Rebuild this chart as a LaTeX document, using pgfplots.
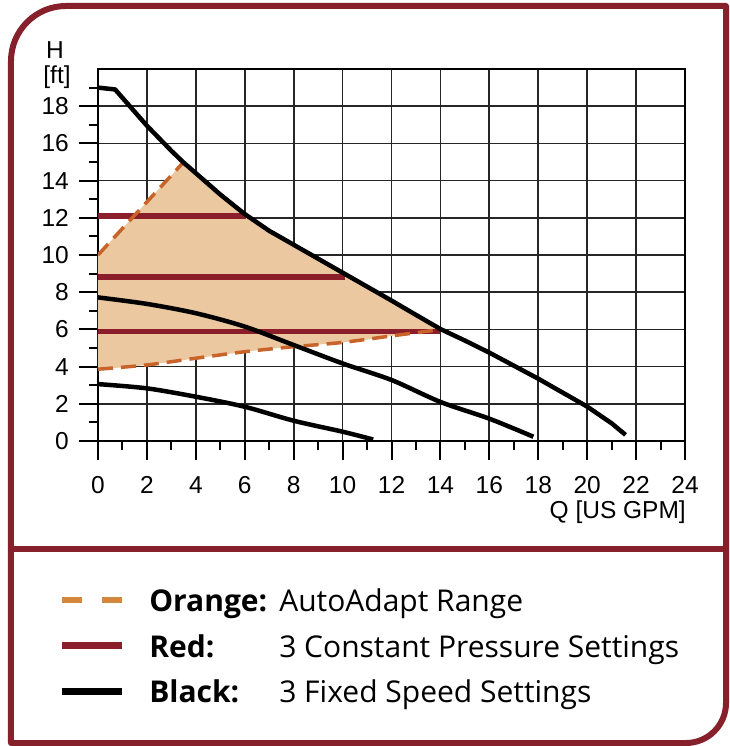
\documentclass[border=0pt]{standalone}
\usepackage{pgfplots}
\pgfplotsset{compat=1.18}
\usepackage{fontspec}
\setmainfont{Liberation Sans}
\newfontfamily\legfont{Open Sans}

\definecolor{frame}{HTML}{86212C}
\definecolor{setred}{HTML}{8A1F2B}
\definecolor{adapt}{HTML}{C8642A}
\definecolor{adaptleg}{HTML}{D4873A}
\definecolor{range}{HTML}{EBC8A0}

\begin{document}
\begin{tikzpicture}[x=1pt,y=1pt]
\begin{axis}[
    name=ax,
    scale only axis, width=587pt, height=372pt,
    xmin=0, xmax=24, ymin=0, ymax=20,
    xtick={0,2,...,24}, ytick={0,2,...,18},
    minor xtick={1,3,...,23}, minor ytick={1,3,...,19},
    xtick pos=bottom, ytick pos=left,
    tick align=outside,
    major tick length=19pt, minor tick length=9pt,
    tick style={line width=2pt, black},
    grid=major,
    major grid style={line width=1.7pt, black!85},
    axis line style={line width=2.4pt},
    ticklabel style={font=\fontsize{24.5}{24.5}\selectfont, inner sep=0pt},
    xticklabel shift=16pt, yticklabel shift=10pt,
    /pgf/number format/assume math mode=true,
    legend style={at={(-0.068,-0.4005)}, anchor=north west, draw=none,
      fill=none, inner sep=0pt, row sep=17pt, column sep=24pt,
      font=\legfont\fontsize{30}{30}\selectfont,
      nodes={inner sep=0pt, text height=21.5pt, text depth=7pt},
      cells={anchor=west}},
    legend image code/.code={\draw[#1] (0pt,4pt) -- (60pt,4pt);},
]

% AutoAdapt range
\addplot[fill=range, draw=none, forget plot] coordinates {
  (0,3.86) (0,10.0) (3.49,14.98) (4,14.4) (5,13.25) (6,12.2) (7,11.3)
  (8,10.55) (9,9.8) (10,9.05) (11,8.3) (12,7.55) (13,6.78) (14.05,6.0)
  (13,5.8) (12,5.65) (11,5.45) (10,5.3) (9,5.18) (8,5.07) (7,4.95) (6,4.8)
  (5,4.62) (4,4.45) (3,4.25) (2,4.09) (1,3.96) (0,3.86)
};

% constant pressure settings
\addplot[setred, line width=5.5pt, forget plot] coordinates {(0,12.1) (6.07,12.1)};
\addplot[setred, line width=5.5pt, forget plot] coordinates {(0,8.83) (10.1,8.83)};
\addplot[setred, line width=5.5pt, forget plot] coordinates {(0,5.9) (14.0,5.9)};

% AutoAdapt limits
\addplot[adapt, line width=3.5pt, dash pattern=on 15pt off 8pt, forget plot]
  coordinates {(0,10.0) (3.49,14.98)};
\addplot[adapt, line width=3.5pt, dash pattern=on 15pt off 8pt, smooth, forget plot]
  coordinates {(0,3.86) (2,4.09) (4,4.45) (6,4.8) (8,5.07) (10,5.3) (12,5.65) (14.05,6.0)};

% fixed speed settings
\addplot[black, line width=4.5pt, line join=round, forget plot] coordinates {
  (0,19.0) (0.7,18.9) (1.3,18.0) (2,16.95) (3,15.6) (3.49,14.98) (4,14.4)
  (5,13.25) (6,12.2) (7,11.3) (8,10.55) (9,9.8) (10,9.05) (11,8.3)
  (12,7.55) (13,6.78) (14,6.02) (15,5.4) (16,4.75) (17,4.05) (18,3.35)
  (19,2.6) (20,1.85) (21,0.95) (21.57,0.33)};
\addplot[black, line width=4.5pt, smooth, tension=0.5, forget plot] coordinates {
  (0,7.72) (2,7.37) (4,6.87) (6,6.15) (8,5.16) (10,4.17) (12,3.28)
  (14,2.1) (16,1.2) (17.8,0.23)};
\addplot[black, line width=4.5pt, smooth, tension=0.5, forget plot] coordinates {
  (0,3.06) (2,2.83) (4,2.38) (6,1.84) (8,1.09) (10,0.5) (11.25,0.08)};

\addlegendimage{adaptleg, line width=6pt, dash pattern=on 20pt off 20pt}
\addlegendentry{\makebox[130pt][l]{\bfseries Orange:}AutoAdapt Range}
\addlegendimage{setred, line width=7pt}
\addlegendentry{\makebox[130pt][l]{\bfseries Red:}3 Constant Pressure Settings}
\addlegendimage{black, line width=7pt}
\addlegendentry{\makebox[130pt][l]{\bfseries Black:}3 Fixed Speed Settings}
\end{axis}

\pgfresetboundingbox
\begin{scope}[shift={(ax.south west)}]
\useasboundingbox (-98,-305) rectangle (631,441);
% outer frame and divider
\draw[frame, line width=6pt, line join=round]
  (-87,-302) -- (-87,380) arc[start angle=180, end angle=90, radius=55]
  -- (628,435) -- (628,-262) arc[start angle=0, end angle=-90, radius=40] -- cycle;
\draw[frame, line width=5.5pt] (-87,-108) -- (628,-108);
% axis titles
\node[font=\fontsize{24.5}{24.5}\selectfont] at (-43,391) {H};
\node[font=\fontsize{24.5}{24.5}\selectfont] at (-41,364) {[ft]};
\node[font=\fontsize{24.5}{24.5}\selectfont, anchor=east, inner sep=0pt] at (588,-71) {Q [US GPM]};
\end{scope}
\end{tikzpicture}
\end{document}
